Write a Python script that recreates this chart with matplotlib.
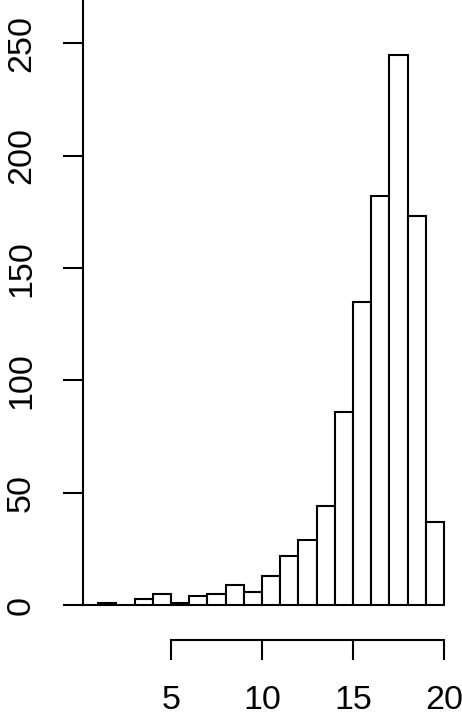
import matplotlib
matplotlib.use("Agg")
import matplotlib.pyplot as plt
import numpy as np

# Histogram data (bins of width 1 from 0 to 20)
bin_edges = list(range(0, 21))
counts = [0, 1, 0, 3, 5, 1, 4, 5, 9, 6, 13, 22, 29, 44, 86, 135, 182, 245, 173, 37]
x_ticks = [5, 10, 15, 20]
x_tick_labels = ["5", "10", "15", "20"]
y_ticks = [0, 50, 100, 150, 200, 250]
y_tick_labels = ["0", "50", "100", "150", "200", "250"]

W, H = 462, 722
dpi = 100
fig = plt.figure(figsize=(W / dpi, H / dpi), dpi=dpi)
fig.patch.set_facecolor("white")
plt.rcParams['font.family'] = ['Liberation Sans', 'DejaVu Sans']

# pixel calibration
x0_px, xs = 80.0, 18.2       # px at data x=0, px per unit
y0_px, ys = 605.3, 2.248     # px from top at data y=0, px per unit

ax = fig.add_axes([0, 0, 1, 1])
ax.set_xlim(-x0_px / xs, (W - x0_px) / xs)
ax.set_ylim(-(H - y0_px) / ys, y0_px / ys)
ax.set_facecolor("none")

lefts = np.array(bin_edges[:-1])
widths = np.diff(bin_edges)
ax.bar(lefts, counts, width=widths, align="edge", facecolor="white",
       edgecolor="black", linewidth=1.5, zorder=2)

lw = 1.5
for s in ["top", "right"]:
    ax.spines[s].set_visible(False)
ax.spines["left"].set_position(("data", (83.3 - x0_px) / xs))
ax.spines["left"].set_bounds(0, y0_px / ys)
ax.spines["left"].set_linewidth(lw)
ax.spines["bottom"].set_position(("data", -(640 - y0_px) / ys))
ax.spines["bottom"].set_bounds(5, 20)
ax.spines["bottom"].set_linewidth(lw)

ax.set_xticks(x_ticks)
ax.set_xticklabels(x_tick_labels, fontsize=24.5)
ax.set_yticks(y_ticks)
ax.set_yticklabels(y_tick_labels, fontsize=24.5, rotation=90, va="center", ha="right")
ax.tick_params(axis="both", direction="out", length=14.4, width=lw, color="black")
ax.tick_params(axis="x", pad=18)
ax.tick_params(axis="y", pad=19)

fig.savefig("out.png", dpi=dpi, facecolor="white")
